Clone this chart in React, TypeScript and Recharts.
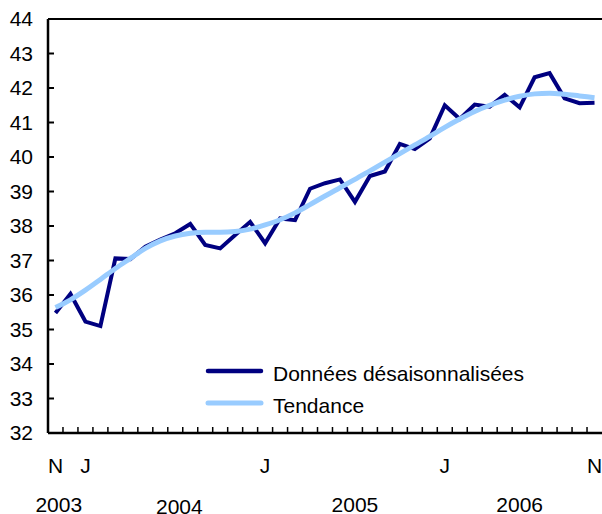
import React from "react";
import { LineChart, Line, XAxis, YAxis, ReferenceLine, Legend } from "recharts";

// Nov 2003 .. Nov 2006, one entry per month
const months = [
  "N", "D",
  "J", "F", "M", "A", "M", "J", "J", "A", "S", "O", "N", "D",
  "J", "F", "M", "A", "M", "J", "J", "A", "S", "O", "N", "D",
  "J", "F", "M", "A", "M", "J", "J", "A", "S", "O", "N",
];

// seasonally adjusted data
const sa = [
  35.48, 36.03, 35.23, 35.1, 37.06, 37.04, 37.4, 37.61, 37.79, 38.06,
  37.45, 37.35, 37.74, 38.12, 37.5, 38.22, 38.17, 39.08, 39.24, 39.35,
  38.7, 39.45, 39.58, 40.38, 40.23, 40.54, 41.5, 41.1, 41.52, 41.46,
  41.8, 41.44, 42.31, 42.43, 41.7, 41.56, 41.57,
];

// trend-cycle
const trend = [
  35.64, 35.86, 36.14, 36.45, 36.77, 37.06, 37.35, 37.57, 37.71, 37.79,
  37.82, 37.82, 37.84, 37.91, 38.03, 38.18, 38.38, 38.62, 38.87, 39.11,
  39.35, 39.6, 39.85, 40.1, 40.35, 40.6, 40.86, 41.1, 41.32, 41.5,
  41.65, 41.76, 41.83, 41.85, 41.82, 41.77, 41.72,
];

const yTicks = [32, 33, 34, 35, 36, 37, 38, 39, 40, 41, 42, 43, 44];
const monthLabelIdx = [0, 2, 14, 26, 36];
const years = ["2003", "2004", "2005", "2006"];
const yearPos = [0.22, 8.27, 20, 31];

const NAVY = "#000080";
const LIGHT = "#99ccff";
const FONT = '"Liberation Sans", Arial, Helvetica, sans-serif';

const data = months.map((m, i) => ({ i, m, sa: sa[i], trend: trend[i] }));

// tick marks sit on the month boundaries
const boundaries = months.slice(1).map((_, i) => i + 0.5);
const allTicks = [...boundaries, ...monthLabelIdx, ...yearPos].sort((a, b) => a - b);

// one tick renderer: short upward mark on boundaries, month letters, years
const BottomTick = (props: any) => {
  const { x, y, payload } = props;
  const v = payload.value;
  if (boundaries.includes(v)) {
    return <line x1={x} y1={y} x2={x} y2={y - 6} stroke="#000" strokeWidth={1.5} />;
  }
  const k = yearPos.indexOf(v);
  if (k >= 0) {
    return (
      <text x={x} y={y} dy={k === 1 ? 81 : 79} textAnchor="middle" fontSize={21} fill="#000">
        {years[k]}
      </text>
    );
  }
  return (
    <text x={x} y={y} dy={40} textAnchor="middle" fontSize={21} fill="#000">
      {months[v]}
    </text>
  );
};

const ChartLegend = () => (
  <svg width={340} height={66} style={{ display: "block", fontFamily: FONT }}>
    <line x1={5} y1={16} x2={58} y2={16} stroke={NAVY} strokeWidth={4.5} strokeLinecap="round" />
    <text x={70} y={26} fontSize={21} fill="#000">
      Données désaisonnalisées
    </text>
    <line x1={5} y1={48} x2={58} y2={48} stroke={LIGHT} strokeWidth={5} strokeLinecap="round" />
    <text x={70} y={58} fontSize={21} fill="#000">
      Tendance
    </text>
  </svg>
);

export default function App() {
  return (
    <div style={{ position: "absolute", left: 0, top: 0, width: 602, height: 514, background: "#fff" }}>
      <LineChart
        width={602}
        height={514}
        data={data}
        margin={{ top: 19, right: 0, left: 0, bottom: 0 }}
        style={{ fontFamily: FONT }}
      >
        <XAxis
          xAxisId="m"
          type="number"
          dataKey="i"
          domain={[-0.5, 36.5]}
          ticks={allTicks}
          interval={0}
          tick={<BottomTick />}
          tickSize={0}
          tickMargin={0}
          height={81}
          axisLine={{ stroke: "#000", strokeWidth: 2.5 }}
          tickLine={false}
        />
        <YAxis
          domain={[32, 44]}
          ticks={yTicks}
          interval={0}
          width={48}
          tickSize={-6}
          tickMargin={21}
          tick={{ fill: "#000", fontSize: 21 }}
          axisLine={{ stroke: "#000", strokeWidth: 2.5 }}
          tickLine={{ stroke: "#000", strokeWidth: 2 }}
        />
        <ReferenceLine xAxisId="m" y={44} stroke="#000" strokeWidth={2} />
        <Line
          xAxisId="m"
          type="linear"
          dataKey="sa"
          stroke={NAVY}
          strokeWidth={4}
          dot={false}
          isAnimationActive={false}
        />
        <Line
          xAxisId="m"
          type="monotone"
          dataKey="trend"
          stroke={LIGHT}
          strokeWidth={5}
          dot={false}
          isAnimationActive={false}
        />
        <Legend
          layout="vertical"
          align="center"
          verticalAlign="middle"
          content={<ChartLegend />}
          wrapperStyle={{ left: 203, top: 355, width: 340, height: 66 }}
        />
      </LineChart>
    </div>
  );
}
